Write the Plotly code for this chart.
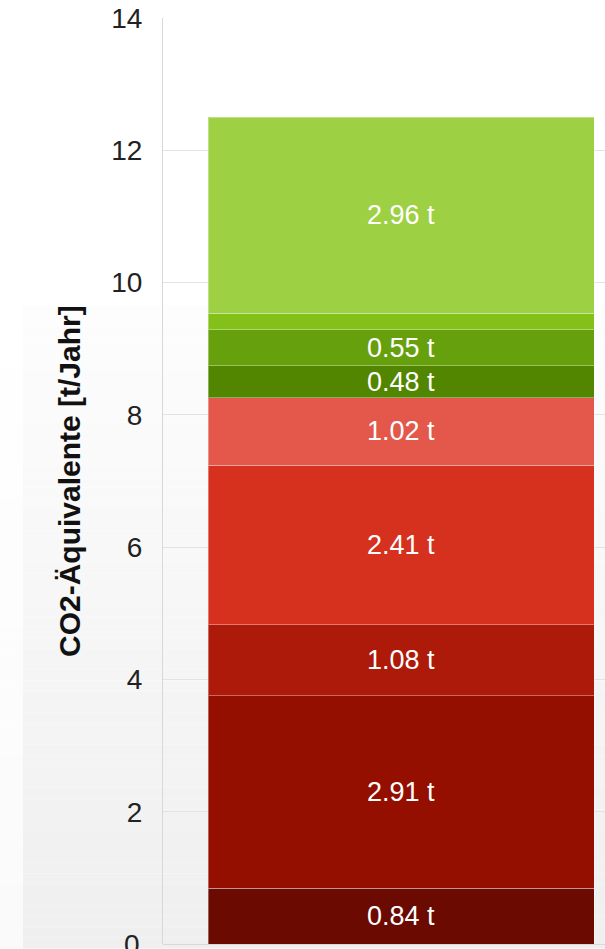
import plotly.graph_objects as go

# ---- data ----
categories = ["CO2"]
segment_values = [0.84, 2.91, 1.08, 2.41, 1.02, 0.48, 0.55, 0.25, 2.96]
segment_labels = ["0.84 t", "2.91 t", "1.08 t", "2.41 t", "1.02 t", "0.48 t", "0.55 t", "", "2.96 t"]
segment_colors = ["#6b0a00", "#940f00", "#ad1a0a", "#d6301e", "#e3584a",
                  "#528500", "#66a00d", "#84c01a", "#9dd043"]
y_tick_values = [2, 4, 6, 8, 10, 12, 14]
y_axis_title = "CO2-Äquivalente [t/Jahr]"

W, H = 605, 949
ML, MR, MT, MB = 163, 0, 17.6, 4.6
PW = W - ML - MR
PH = H - MT - MB

def px_x(p):
    return (p - ML) / PW

def px_y(p):
    return (H - MB - p) / PH

FONT = "Liberation Sans, Arial, sans-serif"

fig = go.Figure()
for v, lab, col in zip(segment_values, segment_labels, segment_colors):
    fig.add_trace(go.Bar(
        x=[0], y=[v], width=1,
        marker=dict(color=col, line=dict(color="rgba(255,255,255,0.35)", width=1)),
        text=[lab], textposition="inside", insidetextanchor="middle", textangle=0,
        textfont=dict(color="white", size=27, family=FONT),
        hoverinfo="skip", showlegend=False, cliponaxis=False,
    ))

# background gradient (approximation with strips)
shapes = []
n = 60
top_px, bot_px = 305, H
for i in range(n):
    y0 = top_px + (bot_px - top_px) * i / n
    y1 = top_px + (bot_px - top_px) * (i + 1) / n
    t = (i + 0.5) / n
    c = int(round(253 - (253 - 239) * t))
    shapes.append(dict(type="rect", xref="paper", yref="paper",
                       x0=px_x(23), x1=px_x(W + 5), y0=px_y(y1), y1=px_y(y0),
                       fillcolor=f"rgb({c},{c},{c})", line=dict(width=0), layer="below"))
    c2 = int(round(255 - (255 - 250) * t))
    shapes.append(dict(type="rect", xref="paper", yref="paper",
                       x0=px_x(-5), x1=px_x(23), y0=px_y(y1), y1=px_y(y0),
                       fillcolor=f"rgb({c2},{c2},{c2})", line=dict(width=0), layer="below"))

fig.update_layout(
    width=W, height=H,
    margin=dict(l=ML, r=MR, t=MT, b=MB, pad=0),
    barmode="stack",
    uniformtext=dict(minsize=27, mode="show"),
    paper_bgcolor="white",
    plot_bgcolor="rgba(0,0,0,0)",
    shapes=shapes,
    font=dict(family=FONT),
    xaxis=dict(range=[-0.6166, 0.5285], showticklabels=False, showgrid=False,
               zeroline=False, showline=False, ticks=""),
    yaxis=dict(range=[0, 14], tickvals=y_tick_values, ticks="",
               tickfont=dict(size=28, color="#222222"),
               ticklabelstandoff=14,
               showgrid=True, gridcolor="#e3e3e3", gridwidth=1,
               zeroline=True, zerolinecolor="#d8d8d8", zerolinewidth=1,
               showline=True, linecolor="#d8d8d8", linewidth=1),
    annotations=[
        dict(text="<b>" + y_axis_title + "</b>", textangle=-90,
             xref="paper", yref="paper", x=px_x(69), y=0.5,
             xanchor="center", yanchor="middle", showarrow=False,
             font=dict(size=30, color="#111111", family=FONT)),
        dict(text="0", xref="paper", yref="y", x=px_x(142), y=0,
             xanchor="right", yanchor="middle", showarrow=False,
             font=dict(size=28, color="#222222", family=FONT)),
    ],
)

fig.write_html("out.html")
